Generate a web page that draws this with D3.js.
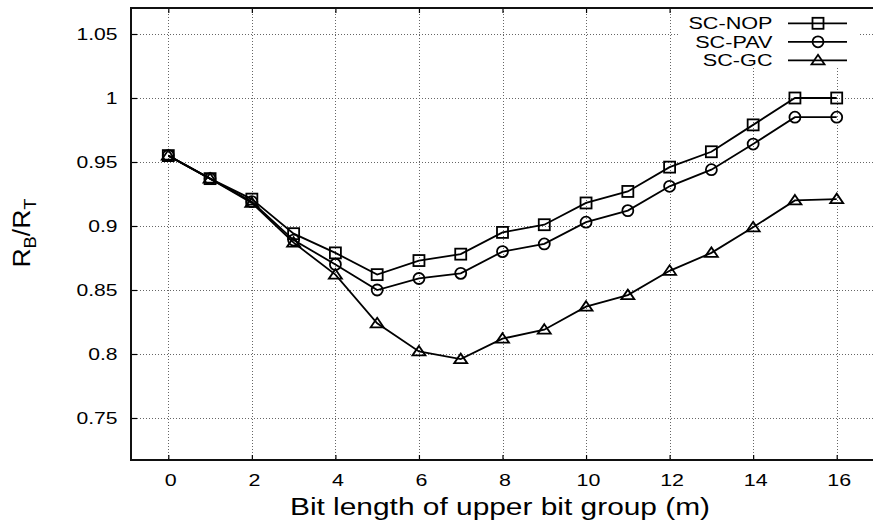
<!DOCTYPE html>
<html>
<head>
<meta charset="utf-8">
<script src="https://cdn.jsdelivr.net/npm/d3@7"></script>
<style>
  html, body { margin: 0; padding: 0; background: #fff; }
  svg { display: block; font-family: "Liberation Sans", Arial, Helvetica, sans-serif; }
</style>
</head>
<body>
<svg id="chart" width="873" height="527"></svg>
<script>
// Upper-bit-group length m
const bitLength = [0, 1, 2, 3, 4, 5, 6, 7, 8, 9, 10, 11, 12, 13, 14, 15, 16];

// R_B / R_T ratio for each scheme
const scNOP = [0.955, 0.937, 0.921, 0.894, 0.879, 0.862, 0.873, 0.878, 0.895, 0.901, 0.918, 0.927, 0.946, 0.958, 0.979, 1.000, 1.000];
const scPAV = [0.955, 0.937, 0.919, 0.889, 0.870, 0.850, 0.859, 0.863, 0.880, 0.886, 0.903, 0.912, 0.931, 0.944, 0.964, 0.985, 0.985];
const scGC  = [0.955, 0.937, 0.918, 0.887, 0.862, 0.824, 0.802, 0.796, 0.812, 0.819, 0.837, 0.846, 0.865, 0.879, 0.899, 0.920, 0.921];

const seriesNames = ["SC-NOP", "SC-PAV", "SC-GC"];
const seriesSymbols = ["square", "circle", "triangle"];

const xTicks = [0, 2, 4, 6, 8, 10, 12, 14, 16];
const yTicks = [0.75, 0.8, 0.85, 0.9, 0.95, 1, 1.05];

const svg = d3.select("#chart");

// plot frame
const frame = { left: 131, right: 876, top: 8, bottom: 460 };

const x = d3.scaleLinear().domain([0, 16]).range([168.3, 836.7]);
const y = d3.scaleLinear().domain([0.75, 1.05]).range([418, 34]);

// horizontally stretched text helper
function stretchedText(g, tx, ty, str, size, sx, anchor) {
  return g.append("text")
    .attr("transform", `translate(${tx},${ty}) scale(${sx},1)`)
    .attr("text-anchor", anchor)
    .attr("font-size", size)
    .attr("fill", "#000")
    .text(str);
}

// dotted grid
const grid = svg.append("g").attr("stroke", "#666").attr("stroke-width", 1).attr("stroke-dasharray", "1,2");
grid.selectAll("line.gx").data(xTicks).join("line")
  .attr("x1", d => Math.round(x(d)) + 0.5).attr("x2", d => Math.round(x(d)) + 0.5)
  .attr("y1", frame.top).attr("y2", frame.bottom);
grid.selectAll("line.gy").data(yTicks).join("line")
  .attr("x1", frame.left).attr("x2", frame.right)
  .attr("y1", d => Math.round(y(d)) + 0.5).attr("y2", d => Math.round(y(d)) + 0.5);

// axes with inward ticks, mirrored on the top edge
const axisG = svg.append("g");
const xAxisBottom = d3.axisBottom(x).tickValues(xTicks).tickSizeInner(-5).tickSizeOuter(0).tickFormat("");
const xAxisTop = d3.axisTop(x).tickValues(xTicks).tickSizeInner(-5).tickSizeOuter(0).tickFormat("");
const yAxisLeft = d3.axisLeft(y).tickValues(yTicks).tickSizeInner(-6).tickSizeOuter(0).tickFormat("");

[
  axisG.append("g").attr("transform", `translate(0,${frame.bottom})`).call(xAxisBottom),
  axisG.append("g").attr("transform", `translate(0,${frame.top})`).call(xAxisTop),
  axisG.append("g").attr("transform", `translate(${frame.left},0)`).call(yAxisLeft)
].forEach(g => {
  g.select(".domain").remove();
  g.selectAll(".tick line").attr("stroke", "#000").attr("stroke-width", 1.2);
});

// frame border
svg.append("rect")
  .attr("x", frame.left).attr("y", frame.top)
  .attr("width", frame.right - frame.left).attr("height", frame.bottom - frame.top)
  .attr("fill", "none").attr("stroke", "#111").attr("stroke-width", 2);

// tick labels
const labels = svg.append("g");
xTicks.forEach(t => stretchedText(labels, x(t) + 2.5, 486, String(t), 16.5, 1.3, "middle"));
yTicks.forEach(t => stretchedText(labels, 117.5, y(t) + 6, d3.format("~g")(t), 16.5, 1.28, "end"));

// axis titles
stretchedText(labels, 500, 515, "Bit length of upper bit group (m)", 24.5, 1.22, "middle");

const yTitle = svg.append("text")
  .attr("transform", "translate(30,233) rotate(-90) scale(1.08,1)")
  .attr("text-anchor", "middle")
  .attr("font-size", 24.5)
  .attr("fill", "#000");
yTitle.append("tspan").text("R");
yTitle.append("tspan").attr("font-size", 17).attr("dy", 6).text("B");
yTitle.append("tspan").attr("dy", -6).text("/R");
yTitle.append("tspan").attr("font-size", 17).attr("dy", 6).text("T");

// series
const allSeries = [scNOP, scPAV, scGC].map((vals, i) => ({
  name: seriesNames[i],
  symbol: seriesSymbols[i],
  points: bitLength.map((m, j) => ({ m, v: vals[j] }))
}));

const line = d3.line().x(d => x(d.m)).y(d => y(d.v));

const plot = svg.append("g");
plot.selectAll("path.series").data(allSeries).join("path")
  .attr("class", "series")
  .attr("d", d => line(d.points))
  .attr("fill", "none").attr("stroke", "#000").attr("stroke-width", 1.8);

function drawMarker(g, symbol, cx, cy) {
  const s = { fill: "none", stroke: "#000", "stroke-width": 1.8 };
  let el;
  if (symbol === "square") {
    el = g.append("rect").attr("x", cx - 5.5).attr("y", cy - 5.5).attr("width", 11).attr("height", 11);
  } else if (symbol === "circle") {
    el = g.append("circle").attr("cx", cx).attr("cy", cy).attr("r", 5.5);
  } else {
    el = g.append("path").attr("d", `M${cx},${cy - 5.5}L${cx + 6.5},${cy + 4}L${cx - 6.5},${cy + 4}Z`);
  }
  Object.entries(s).forEach(([k, v]) => el.attr(k, v));
}

allSeries.forEach(s => {
  const g = plot.append("g");
  s.points.forEach(p => drawMarker(g, s.symbol, x(p.m), y(p.v)));
});

// legend
const legend = svg.append("g");
legend.append("rect").attr("x", 680).attr("y", 9).attr("width", 178).attr("height", 59).attr("fill", "#fff");
allSeries.forEach((s, i) => {
  const ly = 23.3 + i * 18.5;
  stretchedText(legend, 772.5, ly + 6, s.name, 16.4, 1.32, "end");
  legend.append("line").attr("x1", 788).attr("x2", 847).attr("y1", ly).attr("y2", ly)
    .attr("stroke", "#000").attr("stroke-width", 1.8);
  drawMarker(legend, s.symbol, 818, ly);
});
</script>
</body>
</html>
